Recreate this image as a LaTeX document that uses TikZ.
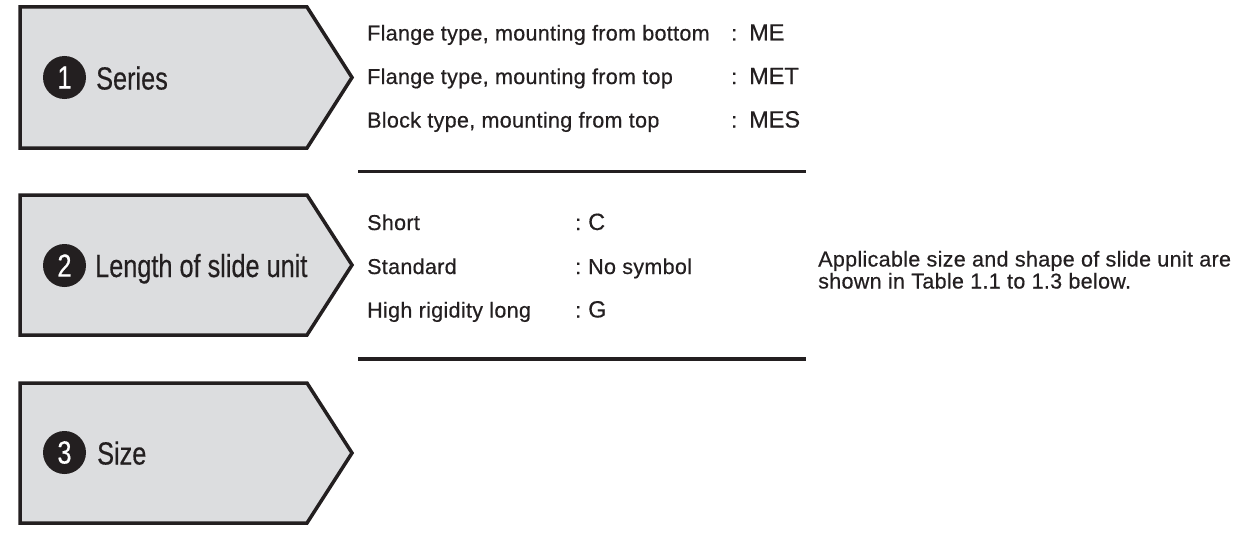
\documentclass[tikz,border=0pt]{standalone}
\usepackage{fontspec}
\setmainfont{Liberation Sans}
\newfontfamily\condfont[FakeStretch=0.79,FakeBold=0.4]{Liberation Sans}
\newfontfamily\bodyfont[LetterSpace=1.5,FakeBold=0.5]{Liberation Sans}
\newfontfamily\codefont[FakeBold=0.5]{Liberation Sans}
\definecolor{ink}{HTML}{231F20}
\definecolor{boxgray}{HTML}{DCDDDF}
\begin{document}
\begin{tikzpicture}[x=1pt,y=-1pt,
  tagbox/.style={draw=ink, line width=3.5pt, fill=boxgray, line join=miter},
  num/.style={circle, fill=ink, text=white, minimum size=43pt, inner sep=0pt, font=\condfont\fontsize{32}{32}\selectfont},
  lbl/.style={anchor=base west, inner sep=0pt, text=ink, font=\condfont\fontsize{32}{32}\selectfont},
  item/.style={anchor=base west, inner sep=0pt, text=ink, font=\bodyfont\fontsize{21.5}{22}\selectfont},
  code/.style={anchor=base west, inner sep=0pt, text=ink, font=\codefont\fontsize{23.5}{23.5}\selectfont},
  sepline/.style={draw=ink, line width=3.5pt}]
\useasboundingbox (0,0) rectangle (1257,543);
% boxes
\draw[tagbox] (20,7) -- (307,7) -- (352,77.5) -- (307,148) -- (20,148) -- cycle;
\draw[tagbox] (20,195) -- (307,195) -- (352,265) -- (307,335) -- (20,335) -- cycle;
\draw[tagbox] (20,383) -- (307,383) -- (352,453) -- (307,523) -- (20,523) -- cycle;
% numbers and labels
\node[num] (n1) at (64.5,77.5) {1};
\node[lbl] (l1) at (96,89.5) {Series};
\node[num] (n2) at (64.5,265.5) {2};
\node[lbl] (l2) at (95,277) {Length of slide unit};
\node[num] (n3) at (64.5,452.5) {3};
\node[lbl] (l3) at (97,464.5) {Size};
% section 1 items
\node[item] (a1) at (367,40.5) {Flange type, mounting from bottom};
\node[item] (a2) at (367,84) {Flange type, mounting from top};
\node[item] (a3) at (367,127.5) {Block type, mounting from top};
\node[item] (c1) at (731,40.5) {:};
\node[item] (c2) at (731,84) {:};
\node[item] (c3) at (731,127.5) {:};
\node[code] (s1) at (749,40.5) {ME};
\node[code] (s2) at (749,84) {MET};
\node[code] (s3) at (749,127.5) {MES};
\path[sepline] (358,171.5) coordinate (r1a) -- (806,171.5) coordinate (r1b);
% section 2 items
\node[item] (b1) at (367,230) {Short};
\node[item] (b2) at (367,274) {Standard};
\node[item] (b3) at (367,317.5) {High rigidity long};
\node[item] (d1) at (575,230) {:};
\node[item] (d2) at (575,274) {:};
\node[item] (d3) at (575,317.5) {:};
\node[code] (t1) at (588,230) {C};
\node[item] (t2) at (588,274) {No symbol};
\node[code] (t3) at (588,317.5) {G};
\path[sepline] (358,359) coordinate (r2a) -- (806,359) coordinate (r2b);
% note
\node[item] (note1) at (818,266.5) {Applicable size and shape of slide unit are};
\node[item] (note2) at (818,288.5) {shown in Table 1.1 to 1.3 below.};
\end{tikzpicture}
\end{document}
